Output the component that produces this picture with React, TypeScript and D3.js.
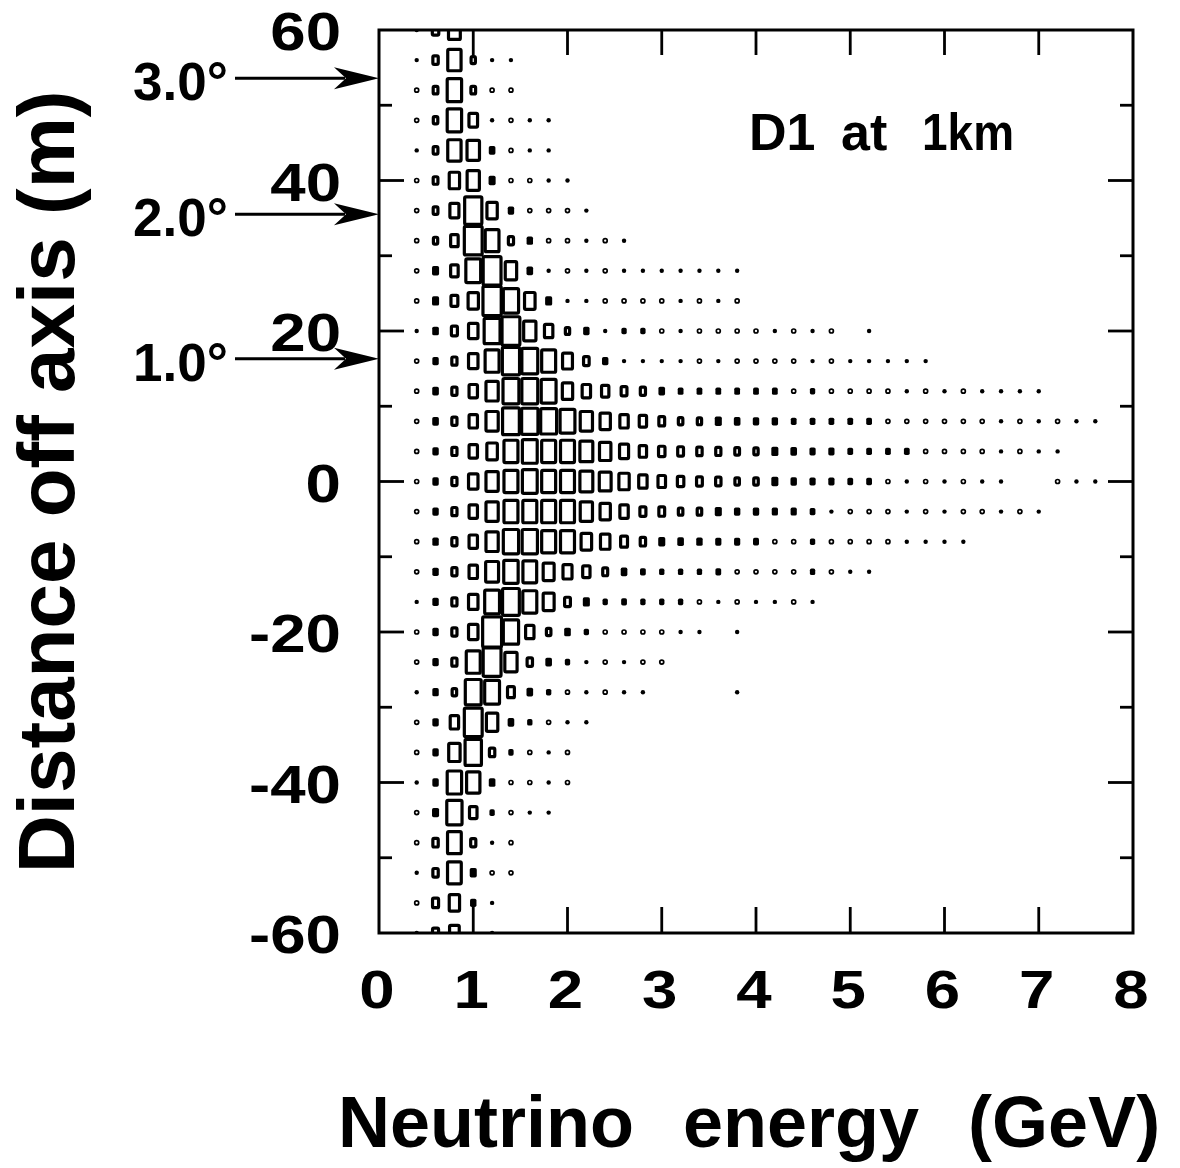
import React from "react";
import * as d3 from "d3";

// bin centres (GeV) and row centres (m)
const energyBins = [
  0.4, 0.6, 0.8, 1.0, 1.2, 1.4, 1.6, 1.8, 2.0, 2.2, 2.4, 2.6, 2.8, 3.0, 3.2, 3.4, 3.6, 3.8, 4.0,
  4.2, 4.4, 4.6, 4.8, 5.0, 5.2, 5.4, 5.6, 5.8, 6.0, 6.2, 6.4, 6.6, 6.8, 7.0, 7.2, 7.4, 7.6, 7.8,
];
const offsets = [
  60, 56, 52, 48, 44, 40, 36, 32, 28, 24, 20, 16, 12, 8, 4, 0,
  -4, -8, -12, -16, -20, -24, -28, -32, -36, -40, -44, -48, -52, -56, -60,
];

// box size per bin (percent of the cell), starting at 0.4 GeV
const y60 = [4, 30, 55];
const y56 = [4, 25, 62, 20, 4, 4];
const y52 = [9, 22, 67, 22, 9, 9];
const y48 = [9, 21, 67, 40, 5, 9, 4, 4];
const y44 = [4, 22, 62, 58, 16, 9, 4, 4];
const y40 = [9, 22, 48, 57, 18, 9, 9, 4, 4];
const y36 = [9, 22, 42, 80, 48, 15, 9, 9, 9, 4];
const y32 = [9, 20, 35, 83, 64, 24, 15, 9, 9, 4, 9, 4];
const y28 = [9, 18, 35, 69, 83, 53, 16, 5, 9, 4, 9, 4, 4, 4, 4, 4, 4, 4];
const y24 = [9, 18, 32, 48, 85, 71, 49, 18, 5, 5, 9, 9, 9, 9, 4, 9, 4, 9];
const y20 = [4, 16, 28, 44, 74, 83, 57, 39, 20, 15, 5, 10, 10, 9, 4, 9, 9, 9, 9, 4, 9, 4, 9, 0, 4];
const y16 = [9, 15, 24, 44, 65, 80, 74, 65, 46, 26, 15, 5, 5, 5, 5, 9, 4, 9, 9, 9, 9, 4, 9, 4, 4, 4, 4, 4];
const y12 = [9, 16, 24, 39, 57, 74, 74, 69, 48, 39, 34, 27, 24, 16, 12, 12, 12, 12, 12, 12, 9, 10, 9, 9, 9, 9, 4, 9, 4, 9, 4, 4, 4, 4];
const y8 = [9, 16, 24, 39, 57, 78, 76, 74, 69, 57, 48, 39, 34, 27, 21, 20, 18, 16, 15, 15, 12, 12, 12, 12, 12, 9, 9, 9, 9, 9, 9, 4, 9, 4, 9, 4, 4];
const y4 = [9, 15, 24, 39, 49, 65, 69, 65, 65, 60, 53, 42, 34, 30, 27, 25, 24, 22, 20, 18, 16, 14, 14, 12, 12, 12, 12, 9, 9, 9, 9, 5, 9, 5, 5];
const y0 = [9, 15, 24, 44, 57, 65, 69, 65, 65, 60, 55, 48, 39, 35, 30, 27, 25, 21, 21, 18, 15, 14, 14, 12, 12, 9, 5, 9, 5, 9, 5, 5, 0, 0, 9, 5, 5];
const yM4 = [9, 15, 24, 39, 57, 65, 65, 65, 65, 57, 48, 39, 28, 27, 21, 21, 18, 15, 15, 14, 14, 12, 5, 9, 9, 9, 5, 9, 5, 9, 9, 5, 9, 5];
const yM8 = [9, 15, 24, 39, 57, 71, 71, 65, 65, 49, 44, 32, 25, 18, 16, 15, 14, 14, 13, 9, 9, 10, 9, 9, 9, 9, 5, 5, 5, 5];
const yM12 = [9, 15, 24, 39, 60, 67, 64, 51, 42, 34, 23, 16, 12, 10, 10, 10, 12, 9, 9, 9, 9, 10, 9, 5, 5];
const yM16 = [5, 15, 24, 44, 69, 78, 65, 51, 27, 18, 10, 12, 10, 10, 10, 9, 5, 9, 5, 5, 9, 5];
const yM20 = [9, 15, 24, 44, 88, 71, 39, 21, 16, 10, 9, 9, 9, 9, 5, 5, 0, 5];
const yM24 = [9, 15, 24, 65, 83, 57, 25, 16, 10, 5, 9, 5, 9, 9];
const yM28 = [5, 15, 21, 74, 69, 32, 16, 10, 9, 5, 9, 5, 5, 0, 0, 0, 0, 5];
const yM32 = [9, 15, 39, 83, 53, 16, 10, 9, 5, 5];
const yM36 = [9, 15, 53, 76, 25, 10, 9, 5, 9];
const yM40 = [5, 15, 67, 62, 16, 9, 9, 5, 9];
const yM44 = [9, 18, 71, 35, 10, 9, 5, 5];
const yM48 = [9, 25, 64, 24, 5, 9];
const yM52 = [5, 25, 64, 18, 9, 9];
const yM56 = [9, 28, 48, 15, 5];
const yM60 = [4, 28, 45, 0, 4];

const rowContents = [
  y60, y56, y52, y48, y44, y40, y36, y32, y28, y24, y20, y16, y12, y8, y4, y0,
  yM4, yM8, yM12, yM16, yM20, yM24, yM28, yM32, yM36, yM40, yM44, yM48, yM52, yM56, yM60,
];

const xTicks = [0, 1, 2, 3, 4, 5, 6, 7, 8];
const yTicks = [-60, -40, -20, 0, 20, 40, 60];
const yMinorTicks = [-50, -30, -10, 10, 30, 50];
const angleLabels = ["3.0°", "2.0°", "1.0°"];
const angleOffsets = [53.6, 35.5, 16.3];

export default function App() {
  const width = 1180;
  const height = 1168;
  const x = d3.scaleLinear().domain([0, 8]).range([379, 1133]);
  const y = d3.scaleLinear().domain([-60, 60]).range([933, 30]);
  const size = d3.scaleLinear().domain([0, 100]).range([0, 1.14]);
  const cellW = x(0.2) - x(0);
  const cellH = y(0) - y(4);
  const font = "'Liberation Sans', Arial, Helvetica, sans-serif";

  const marks: JSX.Element[] = [];
  rowContents.forEach((row, r) => {
    row.forEach((v, i) => {
      if (!v) return;
      const cx = x(energyBins[i]);
      const cy = y(offsets[r]);
      const key = r + "-" + i;
      if (v >= 20) {
        const w = size(v) * cellW;
        const h = size(v) * cellH;
        marks.push(
          <rect key={key} x={cx - w / 2} y={cy - h / 2} width={w} height={h} rx={1.3}
            fill="none" stroke="#000" strokeWidth={3.2} />
        );
      } else if (v >= 10) {
        // small boxes fill up with the thick outline
        const w = size(v) * cellW + 3.2;
        const h = size(v) * cellH + 3.2;
        marks.push(
          <rect key={key} x={cx - w / 2} y={cy - h / 2} width={w} height={h} rx={1.7} fill="#000" />
        );
      } else if (v >= 8) {
        marks.push(
          <circle key={key} cx={cx} cy={cy} r={2} fill="#fff" stroke="#000" strokeWidth={1.7} />
        );
      } else {
        marks.push(<circle key={key} cx={cx} cy={cy} r={2.2} fill="#000" />);
      }
    });
  });

  const [x0, x1] = x.range();
  const [yb, yt] = y.range();

  return (
    <svg width={width} height={height} style={{ position: "absolute", left: 0, top: 0 }}
      fontFamily={font} fontWeight="bold">
      <rect width={width} height={height} fill="#fff" />
      <defs>
        <clipPath id="plot">
          <rect x={x0} y={yt} width={x1 - x0} height={yb - yt} />
        </clipPath>
      </defs>

      <g clipPath="url(#plot)">{marks}</g>

      {/* frame */}
      <rect x={x0} y={yt} width={x1 - x0} height={yb - yt} fill="none" stroke="#000" strokeWidth={3} />

      {/* x ticks, bottom and top */}
      {xTicks.slice(1, -1).map((t) => (
        <g key={"xt" + t} stroke="#000" strokeWidth={2.8}>
          <line x1={x(t)} x2={x(t)} y1={yb} y2={yb - 26} />
          <line x1={x(t)} x2={x(t)} y1={yt} y2={yt + 25} />
        </g>
      ))}
      {xTicks.map((t) => (
        <text key={"xl" + t} transform={`translate(${x(t) - 2},1008) scale(1.2,1)`} fontSize={53}
          textAnchor="middle">{t}</text>
      ))}

      {/* y ticks, left and right */}
      {yTicks.slice(1, -1).map((t) => (
        <g key={"yt" + t} stroke="#000" strokeWidth={2.8}>
          <line x1={x0} x2={x0 + 25} y1={y(t)} y2={y(t)} />
          <line x1={x1} x2={x1 - 25} y1={y(t)} y2={y(t)} />
        </g>
      ))}
      {yMinorTicks.map((t) => (
        <g key={"ym" + t} stroke="#000" strokeWidth={2.8}>
          <line x1={x0} x2={x0 + 13} y1={y(t)} y2={y(t)} />
          <line x1={x1} x2={x1 - 13} y1={y(t)} y2={y(t)} />
        </g>
      ))}
      {yTicks.map((t) => (
        <text key={"yl" + t} transform={`translate(341,${y(t) + 20}) scale(1.2,1)`} fontSize={53}
          textAnchor="end">
          {t < 0 ? "-" + Math.abs(t) : t}
        </text>
      ))}

      {/* off-axis angle arrows */}
      {angleOffsets.map((a, i) => {
        const ay = y(a);
        return (
          <g key={"ang" + i}>
            <line x1={235} x2={345} y1={ay} y2={ay} stroke="#000" strokeWidth={3} />
            <path d={`M${x0},${ay} L${x0 - 45},${ay - 11} L${x0 - 33},${ay} L${x0 - 45},${ay + 11} Z`} fill="#000" />
            <text x={133} y={ay + 22} fontSize={53}>{angleLabels[i]}</text>
          </g>
        );
      })}

      {/* label inside the plot */}
      <text x={749} y={150} fontSize={52}>D1</text>
      <text x={841} y={150} fontSize={52}>at</text>
      <text x={922} y={150} fontSize={52} textLength={92} lengthAdjust="spacingAndGlyphs">1km</text>

      {/* axis titles */}
      <text x={338} y={1147} fontSize={72} wordSpacing={29}>Neutrino energy (GeV)</text>
      <text transform="translate(74,873) rotate(-90)" fontSize={80}>Distance off axis (m)</text>
    </svg>
  );
}
